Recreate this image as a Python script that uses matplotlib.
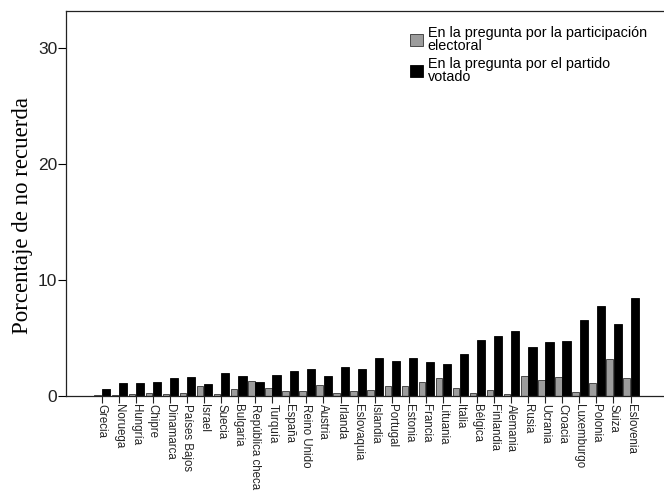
import matplotlib
matplotlib.use("Agg")
import matplotlib.pyplot as plt
from matplotlib.patches import Patch
import numpy as np

paises = ["Grecia", "Noruega", "Hungría", "Chipre", "Dinamarca", "Países Bajos",
          "Israel", "Suecia", "Bulgaria", "República checa", "Turquía", "España",
          "Reino Unido", "Austria", "Irlanda", "Eslovaquia", "Islandia", "Portugal",
          "Estonia", "Francia", "Lituania", "Italia", "Bélgica", "Finlandia",
          "Alemania", "Rusia", "Ucrania", "Croacia", "Luxemburgo", "Polonia",
          "Suiza", "Eslovenia"]

participacion = [0.08, 0.05, 0.15, 0.25, 0.15, 0.25, 0.78, 0.15, 0.58, 1.24,
                 0.63, 0.40, 0.35, 0.95, 0.20, 0.40, 0.49, 0.86, 0.78, 1.21,
                 1.50, 0.69, 0.23, 0.46, 0.15, 1.67, 1.33, 1.59, 0.26, 1.04,
                 3.17, 1.53]

partido = [0.58, 1.07, 1.10, 1.15, 1.50, 1.56, 1.00, 1.93, 1.67, 1.15,
           1.79, 2.10, 2.25, 1.70, 2.48, 2.30, 3.26, 2.97, 3.20, 2.88,
           2.71, 3.63, 4.81, 5.13, 5.59, 4.21, 4.61, 4.67, 6.54, 7.70,
           6.22, 8.44]

etiquetas_leyenda = ["En la pregunta por la participación\nelectoral",
                     "En la pregunta por el partido\nvotado"]

gris = "#9c9c9c"
negro = "#000000"
sans = ["Liberation Sans", "DejaVu Sans"]

W, H = 664, 495
fig = plt.figure(figsize=(W / 100, H / 100), dpi=100)
left, right, top, bottom = 66, 664, 11, 395.5
ax = fig.add_axes([left / W, 1 - bottom / H, (right - left) / W, (bottom - top) / H])

# gray bar to the left of each tick, black bar to the right
x = np.arange(len(paises))
ax.bar(x - 0.42, participacion, width=0.38, align="edge", color=gris,
       edgecolor="#333333", linewidth=0.6)
ax.bar(x + 0.01, partido, width=0.48, align="edge", color=negro,
       edgecolor=negro, linewidth=0.6)

ax.set_xlim(-2.09, (right - 101.7) / 17.06)
ax.set_ylim(0, (bottom - top) / 11.57)

ax.set_xticks(x)
ax.set_xticklabels(paises, rotation=-90, fontsize=8.3, family=sans)
ax.set_yticks([0, 10, 20, 30])
ax.set_yticklabels(["0", "10", "20", "30"], fontsize=12.5, family=sans,
                   color="#222222")

ax.tick_params(axis="x", direction="out", length=5, width=0.8, pad=1, colors="#222222")
ax.tick_params(axis="y", direction="out", length=6, width=0.8, pad=0.3)

for s in ["left", "bottom", "top"]:
    ax.spines[s].set_linewidth(0.9)
    ax.spines[s].set_color("#222222")
ax.spines["right"].set_visible(False)

fig.text(23 / W, 1 - 215 / H, "Porcentaje de no recuerda", rotation=90,
         ha="center", va="center", fontsize=16.5,
         family=["Liberation Serif", "DejaVu Serif"])

handles = [Patch(facecolor=gris, edgecolor="#333333", linewidth=0.6),
           Patch(facecolor=negro, edgecolor=negro, linewidth=0.6)]
leg = fig.legend(handles, etiquetas_leyenda, loc="upper left",
                 bbox_to_anchor=(410 / W, 1 - 26 / H), frameon=False,
                 prop={"family": sans, "size": 10.4},
                 handlelength=0.92, handleheight=0.92, handletextpad=0.3,
                 labelspacing=0.25, borderaxespad=0, borderpad=0)
for t in leg.get_texts():
    t.set_linespacing(0.92)

fig.savefig("out.png", dpi=100)
